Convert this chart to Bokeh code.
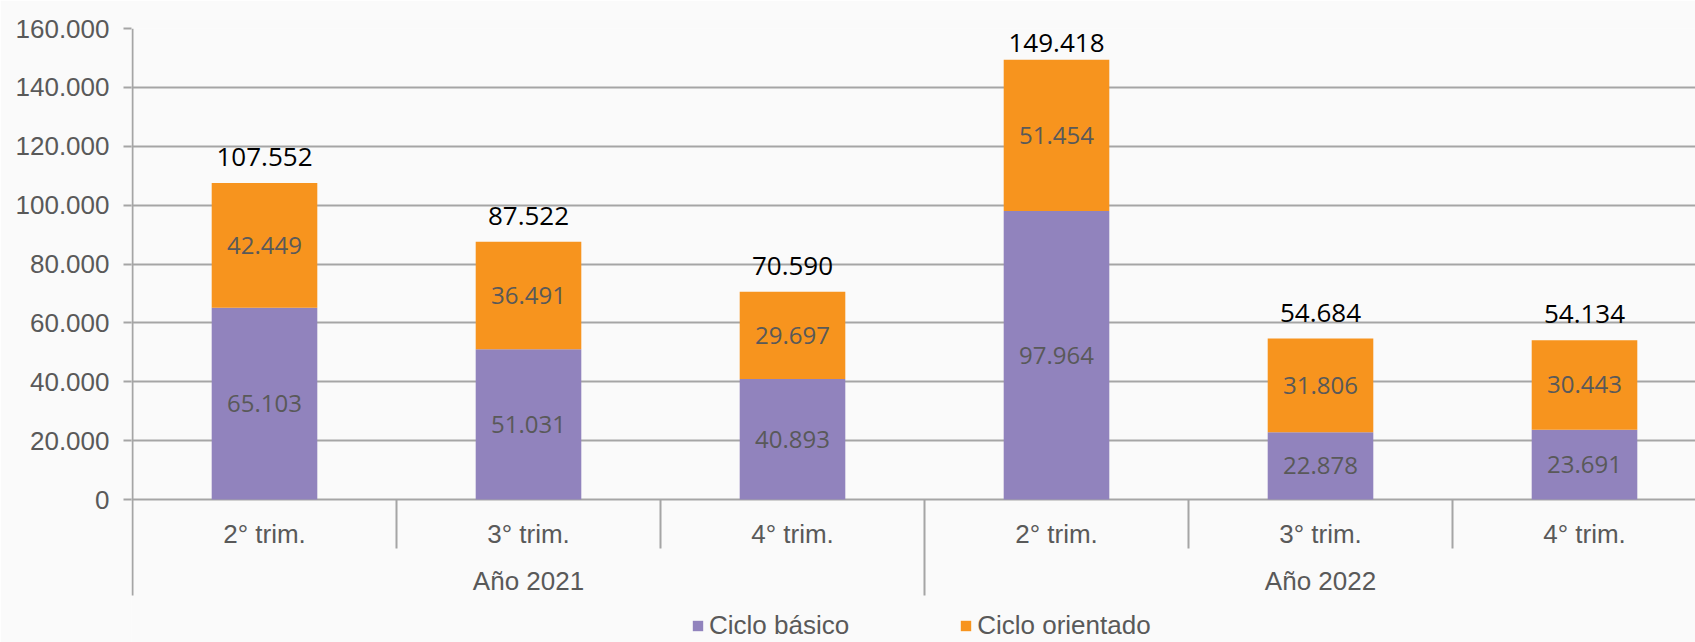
import numpy as np
from bokeh.plotting import figure
from bokeh.models import (ColumnDataSource, Range1d, FixedTicker, LabelSet,
                          Legend, LegendItem)
from bokeh.core.properties import value
from bokeh.embed import file_html
from bokeh.resources import INLINE

# ---- data ----
quarters = ["2° trim.", "3° trim.", "4° trim.", "2° trim.", "3° trim.", "4° trim."]
years = ["Año 2021", "Año 2022"]
year_groups = [[0, 1, 2], [3, 4, 5]]
basico = [65103, 51031, 40893, 97964, 22878, 23691]
orientado = [42449, 36491, 29697, 51454, 31806, 30443]
series_names = ["Ciclo básico", "Ciclo orientado"]
y_ticks = [0, 20000, 40000, 60000, 80000, 100000, 120000, 140000, 160000]
y_tick_labels = ["0", "20.000", "40.000", "60.000", "80.000", "100.000",
                 "120.000", "140.000", "160.000"]

# ---- style ----
PURPLE = "#9183bd"
ORANGE = "#f7941e"
GRID = "#a5a5a5"
TXT = "#595959"
BG = "#fafafa"
SANS = value("Liberation Sans")
OPEN = value("Open Sans")

def fmt(v):
    return f"{int(v):,}".replace(",", ".")

W, H = 1695, 642
LEFT, TOP = 131, 28
frame_h = H - TOP
ymax = y_ticks[-1]
axis_px = 471.0                     # px between 0 and top gridline
upp = ymax / axis_px                # data units per pixel
ymin = -(frame_h - axis_px) * upp   # room for category table + legend
cat_px = 264.0
frame_w = W - LEFT
x_start = -0.5 - 1.0 / cat_px
x_end = x_start + frame_w / cat_px

x = np.arange(len(quarters))
b = np.array(basico, dtype=float)
o = np.array(orientado, dtype=float)
tot = b + o

src = ColumnDataSource(dict(x=x, basico=b, orientado=o))

p = figure(width=W, height=H, output_backend="svg", toolbar_location=None,
           x_range=Range1d(x_start, x_end), y_range=Range1d(ymin, ymax),
           min_border_left=LEFT, min_border_right=0, min_border_top=TOP,
           min_border_bottom=0, x_axis_type=None,
           background_fill_color=BG, border_fill_color=BG)
p.outline_line_color = None

renderers = p.vbar_stack(["basico", "orientado"], x="x", width=0.4,
                         color=[PURPLE, ORANGE], line_color=None, source=src)

# y axis
ya = p.yaxis[0]
ya.ticker = FixedTicker(ticks=y_ticks)
ya.major_label_overrides = {t: l for t, l in zip(y_ticks, y_tick_labels)}
ya.axis_line_color = None
ya.major_tick_line_color = GRID
ya.major_tick_line_width = 2
ya.major_tick_out = 8
ya.major_tick_in = 0
ya.minor_tick_line_color = None
ya.major_label_standoff = 14
ya.major_label_text_font = "Liberation Sans"
ya.major_label_text_font_size = "26px"
ya.major_label_text_color = TXT

p.xgrid.visible = False
p.ygrid.ticker = FixedTicker(ticks=y_ticks)
p.ygrid.grid_line_color = GRID
p.ygrid.grid_line_width = 2

# category table lines (y axis line, group separators, inner separators)
table_bottom = -96 * upp
short_bottom = -49 * upp
outer = [-0.5] + [g[-1] + 0.5 for g in year_groups[:-1]]
p.segment(x0=outer, y0=[ymax if i == 0 else 0 for i in range(len(outer))],
          x1=outer, y1=[table_bottom] * len(outer),
          line_color=GRID, line_width=2)
inner = [i + 0.5 for g in year_groups for i in g[:-1]]
p.segment(x0=inner, y0=[0] * len(inner), x1=inner, y1=[short_bottom] * len(inner),
          line_color=GRID, line_width=2)

# category labels
cat_src = ColumnDataSource(dict(x=x, y=np.zeros(len(x)), t=quarters))
p.add_layout(LabelSet(x="x", y="y", text="t", source=cat_src, y_offset=-34,
                      text_align="center", text_baseline="middle",
                      text_font=SANS, text_font_size="26px",
                      text_color=TXT))
year_x = [float(np.mean(g)) for g in year_groups]
yr_src = ColumnDataSource(dict(x=year_x, y=[0, 0], t=years))
p.add_layout(LabelSet(x="x", y="y", text="t", source=yr_src, y_offset=-81,
                      text_align="center", text_baseline="middle",
                      text_font=SANS, text_font_size="26px",
                      text_color=TXT))

# segment value labels
seg_src = ColumnDataSource(dict(
    x=np.concatenate([x, x]),
    y=np.concatenate([b / 2, b + o / 2]),
    t=[fmt(v) for v in basico] + [fmt(v) for v in orientado],
))
p.add_layout(LabelSet(x="x", y="y", text="t", source=seg_src,
                      text_align="center", text_baseline="middle",
                      text_font=OPEN, text_font_size="24px",
                      text_color=TXT))

# totals
tot_y = np.minimum(tot + 17 * upp, ymax - 23 * upp)
tot_src = ColumnDataSource(dict(x=x, y=tot_y, t=[fmt(v) for v in tot]))
p.add_layout(LabelSet(x="x", y="y", text="t", source=tot_src,
                      text_align="center", text_baseline="alphabetic",
                      text_font=OPEN, text_font_size="26px",
                      text_color="#000000"))

legend = Legend(items=[LegendItem(label=n, renderers=[r])
                       for n, r in zip(series_names, renderers)],
                orientation="horizontal", location=(560, 1),
                padding=0, margin=0, spacing=110,
                glyph_width=13, glyph_height=13, label_standoff=5,
                label_text_font="Liberation Sans", label_text_font_size="26px",
                label_text_color=TXT, border_line_color=None,
                background_fill_alpha=0)
p.add_layout(legend, "center")

open("out.html", "w").write(file_html(p, INLINE))
